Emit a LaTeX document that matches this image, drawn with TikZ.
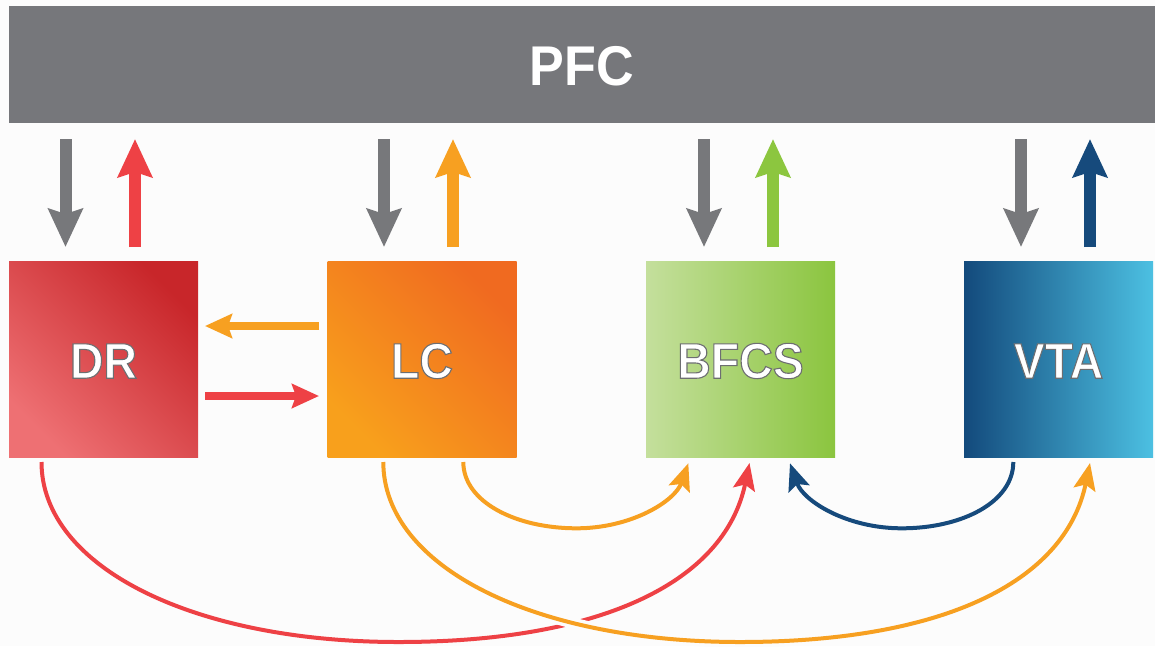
\documentclass[tikz,border=0pt]{standalone}
\usepackage{fontspec}
\newfontfamily\lblfont[FakeStretch=0.93]{Liberation Sans}
\usetikzlibrary{arrows.meta,calc}
\definecolor{bgc}{HTML}{FCFCFC}
\definecolor{pfcgray}{HTML}{76777B}
\definecolor{agray}{HTML}{77787B}
\definecolor{ared}{HTML}{EE4145}
\definecolor{aorange}{HTML}{F7A021}
\definecolor{agreen}{HTML}{8CC63F}
\definecolor{ablue}{HTML}{164A7C}
\definecolor{drdark}{HTML}{C8262A}
\definecolor{drlight}{HTML}{EE7073}
\definecolor{lcdark}{HTML}{F06A20}
\definecolor{lclight}{HTML}{F8A01C}
\definecolor{bflight}{HTML}{C4DF9C}
\definecolor{bfdark}{HTML}{8BC53F}
\definecolor{vtadark}{HTML}{134A7C}
\definecolor{vtalight}{HTML}{4CC0E2}
\newcommand\stroked[1]{\special{pdf:literal direct 2 Tr 1.1 w 0.427 0.431 0.443 RG}#1\special{pdf:literal direct 0 Tr}}
\begin{document}
\begin{tikzpicture}[x=1pt,y=1pt,
  box/.style={rectangle, minimum width=189pt, minimum height=196pt, inner sep=0pt, outer sep=0pt},
  lbl/.style={font=\lblfont\bfseries\fontsize{50}{50}\selectfont, inner sep=0pt, text=white},
  blockarrow/.style={line width=12pt, -{Stealth[length=38pt,width=34pt,inset=5pt]}},
  sidearrow/.style={line width=8pt, -{Stealth[length=27pt,width=24pt,inset=4pt]}},
  curvearrow/.style={line width=4pt, -{Stealth[length=27pt,width=22pt,inset=5pt]}},
]
\fill[bgc] (0,0) rectangle (1155,-646);
\useasboundingbox (0,0) rectangle (1155,-646);

\node[fill=pfcgray, minimum width=1146pt, minimum height=117pt, inner sep=0pt, outer sep=0pt] (PFC) at (582,-64.5) {};
\node[text=white, inner sep=0pt, font=\lblfont\bfseries\fontsize{56}{56}\selectfont] (PFCtxt) at ([yshift=-1.5pt]PFC.center) {PFC};

\node[box, top color=drdark, bottom color=drlight, shading angle=-45] (DR) at (103.5,-359) {};
\node[box, top color=lcdark, bottom color=lclight, shading angle=-45] (LC) at (422,-359) {};
\node[box, left color=bflight, right color=bfdark] (BFCS) at (740.5,-359) {};
\node[box, left color=vtadark, right color=vtalight] (VTA) at (1058.5,-359) {};

\node[lbl] (DRtxt) at ([yshift=-2pt]DR.center) {\stroked{DR}};
\node[lbl] (LCtxt) at ([yshift=-2pt]LC.center) {\stroked{LC}};
\node[lbl] (BFCStxt) at ([yshift=-2pt]BFCS.center) {\stroked{BFCS}};
\node[lbl] (VTAtxt) at ([yshift=-2pt]VTA.center) {\stroked{VTA}};

% vertical arrows to / from PFC
\foreach \n/\c/\dl/\dr in {DR/ared/-38/31.5, LC/aorange/-38/31, BFCS/agreen/-36.5/32.5, VTA/ablue/-37.5/31.5}{
  \draw[blockarrow, agray] ($(\n.north |- PFC.south)+(\dl,-16)$) -- ($(\n.north)+(\dl,14)$);
  \draw[blockarrow, \c] ($(\n.north)+(\dr,14)$) -- ($(\n.north |- PFC.south)+(\dr,-16)$);
}

% horizontal arrows between DR and LC
\draw[sidearrow, aorange] ($(LC.west)+(-8.5,33)$) -- ($(DR.east)+(7,33)$);
\draw[sidearrow, ared] ($(DR.east)+(7,-37)$) -- ($(LC.west)+(-8.5,-37)$);

% bottom curves
\coordinate (redlow) at ($(DR.south)+(295,-185)$);
\draw[curvearrow, ared] ($(DR.south)+(-62,-5)$) .. controls +(0,-105) and +(-205,0) .. (redlow)
   .. controls +(201,0) and +(-25,-120) .. ($(BFCS.south)+(9,-6)$);

\coordinate (orlow) at ($(LC.south)+(318,-185)$);
\draw[line width=11pt, bgc, shorten >=30pt] ($(LC.south)+(-38.7,-5)$) .. controls +(0,-105) and +(-205,0) .. (orlow)
   .. controls +(201,0) and +(-25,-120) .. ($(VTA.south)+(31.5,-6)$);
\draw[curvearrow, aorange] ($(LC.south)+(-38.7,-5)$) .. controls +(0,-105) and +(-205,0) .. (orlow)
   .. controls +(201,0) and +(-25,-120) .. ($(VTA.south)+(31.5,-6)$);

\coordinate (oslow) at ($(LC.south)+(154.5,-71.3)$);
\draw[curvearrow, aorange] ($(LC.south)+(41.3,-5)$) .. controls +(0,-40) and +(-60.5,0) .. (oslow)
   .. controls +(55,0) and +(-13.3,-37.7) .. ($(BFCS.south)+(-52.2,-6.3)$);

\coordinate (bllow) at ($(VTA.south)+(-156.8,-71.3)$);
\draw[curvearrow, ablue] ($(VTA.south)+(-45.2,-5)$) .. controls +(0,-40) and +(60.5,0) .. (bllow)
   .. controls +(-55,0) and +(13.3,-37.7) .. ($(BFCS.south)+(49.5,-6.3)$);
\end{tikzpicture}
\end{document}
